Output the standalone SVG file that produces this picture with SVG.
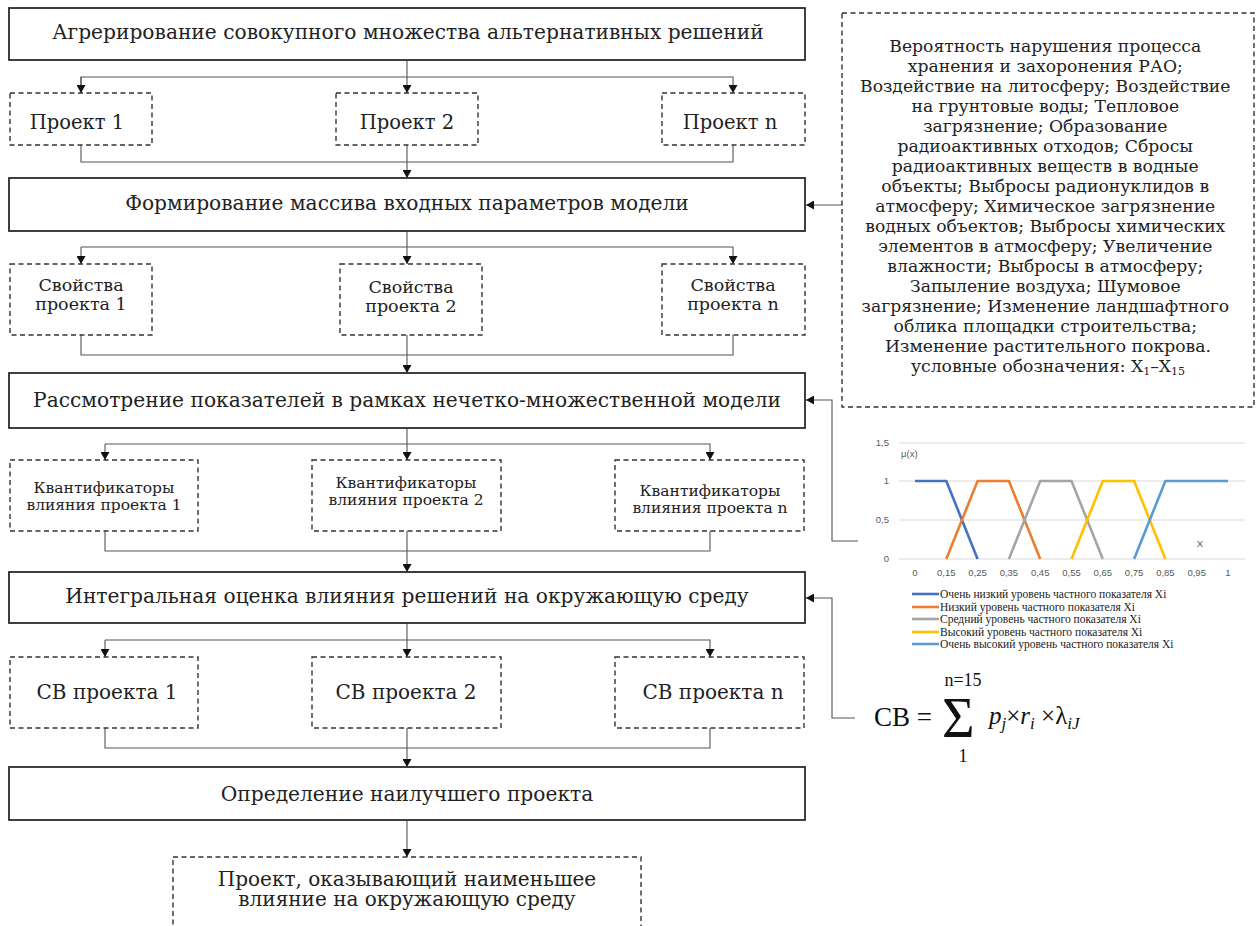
<svg xmlns="http://www.w3.org/2000/svg" width="1256" height="926" viewBox="0 0 1256 926">
<style>
.main{fill:#fff;stroke:#2b2b2b;stroke-width:1.8}
.dash{fill:#fff;stroke:#333;stroke-width:1.4;stroke-dasharray:5 3.5}
.t{font-family:"DejaVu Serif","Liberation Serif",serif;fill:#222;text-anchor:middle}
.c{fill:none;stroke:#555;stroke-width:1.1}
.g{stroke:#d9d9d9;stroke-width:1}
.ax{font-family:"Liberation Sans",Arial,sans-serif;font-size:9.5px;fill:#595959}
.lg{font-family:"Liberation Serif","Times New Roman",serif;font-size:11.5px;fill:#222}
.ser{stroke-width:2.6;fill:none;stroke-linejoin:round}
.f{font-family:"Liberation Serif","Times New Roman",serif;fill:#111}
</style>
<defs>
<marker id="ah" markerUnits="userSpaceOnUse" markerWidth="9" markerHeight="9" refX="8" refY="4.5" orient="auto">
<path d="M0,0 L8,4.5 L0,9 z" fill="#111"/>
</marker>
</defs>

<g id="connectors">
<path class="c" d="M407,60 V93" marker-end="url(#ah)"/>
<path class="c" d="M81,93 V77 H733 V93" marker-end="url(#ah)"/>
<path class="c" d="M81,77 V93" marker-end="url(#ah)"/>
<path class="c" d="M81,145 V162 H733 V145"/>
<path class="c" d="M407,145 V178" marker-end="url(#ah)"/>

<path class="c" d="M407,231 V264" marker-end="url(#ah)"/>
<path class="c" d="M81,247 H733 V264" marker-end="url(#ah)"/>
<path class="c" d="M81,247 V264" marker-end="url(#ah)"/>
<path class="c" d="M81,335 V355 H733 V335"/>
<path class="c" d="M407,335 V373" marker-end="url(#ah)"/>

<path class="c" d="M407,428 V460" marker-end="url(#ah)"/>
<path class="c" d="M105,444 H710 V460" marker-end="url(#ah)"/>
<path class="c" d="M105,444 V460" marker-end="url(#ah)"/>
<path class="c" d="M105,531 V551 H710 V531"/>
<path class="c" d="M407,531 V572" marker-end="url(#ah)"/>

<path class="c" d="M407,623 V657" marker-end="url(#ah)"/>
<path class="c" d="M105,640 H710 V657" marker-end="url(#ah)"/>
<path class="c" d="M105,640 V657" marker-end="url(#ah)"/>
<path class="c" d="M105,728 V748 H710 V728"/>
<path class="c" d="M407,728 V767" marker-end="url(#ah)"/>

<path class="c" d="M407,820 V857" marker-end="url(#ah)"/>

<path class="c" d="M842,205 H806" marker-end="url(#ah)"/>
<path class="c" d="M858,541 H832 V400 H806" marker-end="url(#ah)"/>
<path class="c" d="M855,718 H832 V598 H806" marker-end="url(#ah)"/>
</g>

<g id="n1"><rect class="main" x="9" y="8" width="796" height="52"/><text class="t" x="408" y="39" font-size="20.2">Агрерирование совокупного множества альтернативных решений</text></g>
<g id="p1"><rect class="dash" x="10" y="93" width="142" height="52"/><text class="t" x="77" y="129" font-size="19.5">Проект 1</text></g>
<g id="p2"><rect class="dash" x="336" y="93" width="142" height="52"/><text class="t" x="407" y="129" font-size="19.5">Проект 2</text></g>
<g id="pn"><rect class="dash" x="662" y="93" width="143" height="52"/><text class="t" x="730" y="129" font-size="19.5">Проект n</text></g>

<g id="n2"><rect class="main" x="9" y="178" width="796" height="53"/><text class="t" x="407" y="210" font-size="20.2">Формирование массива входных параметров модели</text></g>
<g id="s1"><rect class="dash" x="10" y="264" width="142" height="71"/><text class="t" font-size="17.5"><tspan x="81" y="291">Свойства</tspan><tspan x="81" y="310">проекта 1</tspan></text></g>
<g id="s2"><rect class="dash" x="340" y="264" width="142" height="71"/><text class="t" font-size="17.5"><tspan x="411" y="293">Свойства</tspan><tspan x="411" y="312">проекта 2</tspan></text></g>
<g id="sn"><rect class="dash" x="662" y="264" width="143" height="71"/><text class="t" font-size="17.5"><tspan x="733" y="291">Свойства</tspan><tspan x="733" y="310">проекта n</tspan></text></g>

<g id="n3"><rect class="main" x="9" y="373" width="796" height="55"/><text class="t" x="407" y="407" font-size="20.2">Рассмотрение показателей в рамках нечетко-множественной модели</text></g>
<g id="q1"><rect class="dash" x="10" y="460" width="188" height="71"/><text class="t" font-size="15.5"><tspan x="104" y="493">Квантификаторы</tspan><tspan x="104" y="510">влияния проекта 1</tspan></text></g>
<g id="q2"><rect class="dash" x="312" y="460" width="189" height="71"/><text class="t" font-size="15.5"><tspan x="406" y="488">Квантификаторы</tspan><tspan x="406" y="505">влияния проекта 2</tspan></text></g>
<g id="qn"><rect class="dash" x="615" y="460" width="189" height="71"/><text class="t" font-size="15.5"><tspan x="710" y="496">Квантификаторы</tspan><tspan x="710" y="513">влияния проекта n</tspan></text></g>

<g id="n4"><rect class="main" x="9" y="572" width="796" height="51"/><text class="t" x="407" y="603" font-size="20.2">Интегральная оценка влияния решений на окружающую среду</text></g>
<g id="c1"><rect class="dash" x="10" y="657" width="188" height="71"/><text class="t" x="107" y="699" font-size="20">СВ проекта 1</text></g>
<g id="c2"><rect class="dash" x="312" y="657" width="189" height="71"/><text class="t" x="406" y="699" font-size="20">СВ проекта 2</text></g>
<g id="cn"><rect class="dash" x="615" y="657" width="189" height="71"/><text class="t" x="713" y="699" font-size="20">СВ проекта n</text></g>

<g id="n5"><rect class="main" x="9" y="767" width="796" height="53"/><text class="t" x="407" y="801" font-size="20.2">Определение наилучшего проекта</text></g>
<g id="res"><rect class="dash" x="173" y="857" width="468" height="80"/><text class="t" font-size="20"><tspan x="407" y="886">Проект, оказывающий наименьшее</tspan><tspan x="407" y="906">влияние на окружающую среду</tspan></text></g>

<g id="params"><rect class="dash" x="842" y="13" width="412" height="394"/>
<text class="t" font-size="17.2">
<tspan x="1048" y="52">Вероятность нарушения процесса</tspan>
<tspan x="1048" y="72">хранения и захоронения РАО;</tspan>
<tspan x="1048" y="92">Воздействие на литосферу; Воздействие</tspan>
<tspan x="1048" y="112">на грунтовые воды; Тепловое</tspan>
<tspan x="1048" y="132">загрязнение; Образование</tspan>
<tspan x="1048" y="152">радиоактивных отходов; Сбросы</tspan>
<tspan x="1048" y="172">радиоактивных веществ в водные</tspan>
<tspan x="1048" y="192">объекты; Выбросы радионуклидов в</tspan>
<tspan x="1048" y="212">атмосферу; Химическое загрязнение</tspan>
<tspan x="1048" y="232">водных объектов; Выбросы химических</tspan>
<tspan x="1048" y="252">элементов в атмосферу; Увеличение</tspan>
<tspan x="1048" y="272">влажности; Выбросы в атмосферу;</tspan>
<tspan x="1048" y="292">Запыление воздуха; Шумовое</tspan>
<tspan x="1048" y="312">загрязнение; Изменение ландшафтного</tspan>
<tspan x="1048" y="332">облика площадки строительства;</tspan>
<tspan x="1048" y="352">Изменение растительного покрова.</tspan>
</text>
<text class="t" x="1048" y="372" font-size="17.2">условные обозначения: X<tspan font-size="11" dy="3">1</tspan><tspan dy="-3">–X</tspan><tspan font-size="11" dy="3">15</tspan></text>
</g>

<g id="chart">
<line class="g" x1="899" y1="443" x2="1245" y2="443"/>
<line class="g" x1="899" y1="481" x2="1245" y2="481"/>
<line class="g" x1="899" y1="520" x2="1245" y2="520"/>
<line class="g" x1="899" y1="559" x2="1245" y2="559"/>
<text class="ax" x="889" y="446" text-anchor="end">1,5</text>
<text class="ax" x="889" y="484" text-anchor="end">1</text>
<text class="ax" x="889" y="523" text-anchor="end">0,5</text>
<text class="ax" x="889" y="562" text-anchor="end">0</text>
<text class="ax" x="901" y="457">μ(x)</text>
<text class="ax" x="1200" y="547" text-anchor="middle" font-size="10.5">X</text>
<g class="ax" text-anchor="middle">
<text x="915" y="576">0</text><text x="946.3" y="576">0,15</text><text x="977.6" y="576">0,25</text><text x="1008.9" y="576">0,35</text><text x="1040.2" y="576">0,45</text><text x="1071.5" y="576">0,55</text><text x="1102.8" y="576">0,65</text><text x="1134.1" y="576">0,75</text><text x="1165.4" y="576">0,85</text><text x="1196.7" y="576">0,95</text><text x="1228" y="576">1</text>
</g>
<polyline class="ser" stroke="#4472C4" points="915,481 946.3,481 977.6,559"/>
<polyline class="ser" stroke="#ED7D31" points="946.3,559 977.6,481 1008.9,481 1040.2,559"/>
<polyline class="ser" stroke="#A5A5A5" points="1008.9,559 1040.2,481 1071.5,481 1102.8,559"/>
<polyline class="ser" stroke="#FFC000" points="1071.5,559 1102.8,481 1134.1,481 1165.4,559"/>
<polyline class="ser" stroke="#5B9BD5" points="1134.1,559 1165.4,481 1228,481"/>
<line x1="912" y1="594" x2="939" y2="594" stroke="#4472C4" stroke-width="2.6"/>
<line x1="912" y1="607" x2="939" y2="607" stroke="#ED7D31" stroke-width="2.6"/>
<line x1="912" y1="619" x2="939" y2="619" stroke="#A5A5A5" stroke-width="2.6"/>
<line x1="912" y1="632" x2="939" y2="632" stroke="#FFC000" stroke-width="2.6"/>
<line x1="912" y1="644" x2="939" y2="644" stroke="#5B9BD5" stroke-width="2.6"/>
<text class="lg" x="940" y="598">Очень низкий уровень частного показателя Xi</text>
<text class="lg" x="940" y="611">Низкий уровень частного показателя Xi</text>
<text class="lg" x="940" y="623">Средний уровень частного показателя Xi</text>
<text class="lg" x="940" y="636">Высокий уровень частного показателя Xi</text>
<text class="lg" x="940" y="648">Очень высокий уровень частного показателя Xi</text>
</g>

<g id="formula">
<text class="f" x="874" y="726" font-size="27">СВ =</text>
<text class="f" x="942" y="737" font-size="56">Σ</text>
<text class="f" x="963" y="686" font-size="18" text-anchor="middle">n=15</text>
<text class="f" x="963" y="762" font-size="18" text-anchor="middle">1</text>
<text class="f" x="989" y="724" font-size="25"><tspan font-style="italic">p</tspan><tspan font-style="italic" font-size="17" dy="5">j</tspan><tspan dy="-5">×</tspan><tspan font-style="italic">r</tspan><tspan font-style="italic" font-size="17" dy="5">i</tspan><tspan dy="-5"> ×λ</tspan><tspan font-style="italic" font-size="17" dy="5">iJ</tspan></text>
</g>
</svg>
